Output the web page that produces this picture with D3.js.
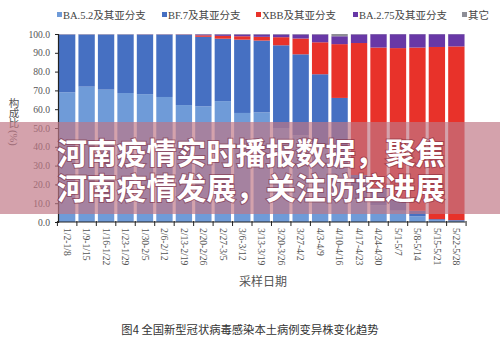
<!DOCTYPE html>
<html>
<head>
<meta charset="utf-8">
<script src="https://cdn.jsdelivr.net/npm/d3@7"></script>
<style>
  html, body { margin: 0; padding: 0; background: #ffffff; }
  svg { display: block; }
</style>
</head>
<body>
<svg id="chart" width="500" height="342"></svg>
<script>
// Weekly sampling periods
const categories = [
  "1/2-1/8", "1/9-1/15", "1/16-1/22", "1/23-1/29", "1/30-2/5", "2/6-2/12",
  "2/13-2/19", "2/20-2/26", "2/27-3/5", "3/6-3/12", "3/13-3/19", "3/20-3/26",
  "3/27-4/2", "4/3-4/9", "4/10-4/16", "4/17-4/23", "4/24-4/30", "5/1-5/7",
  "5/8-5/14", "5/15-5/21", "5/22-5/28"
];

// Share of local cases by variant (%)
const ba52  = [69.0, 72.0, 70.4, 68.6, 68.0, 66.5, 62.2, 61.5, 64.3, 58.0, 58.3, 50.0, 46.0, 40.0, 33.0, 12.0, 9.0, 6.0, 3.0, 1.0, 0.6];
const bf7   = [30.7, 27.7, 29.3, 31.1, 31.6, 33.1, 37.3, 37.0, 33.2, 39.0, 38.2, 44.0, 43.2, 38.6, 33.0, 13.0, 9.0, 6.0, 3.0, 0.5, 0.4];
const xbb   = [0.0, 0.0, 0.0, 0.0, 0.0, 0.0, 0.1, 0.8, 1.5, 1.8, 2.0, 4.3, 8.4, 17.0, 28.6, 70.2, 74.8, 80.5, 86.8, 91.6, 92.4];
const ba275 = [0.1, 0.1, 0.1, 0.1, 0.2, 0.2, 0.2, 0.5, 0.8, 1.0, 1.3, 1.5, 2.2, 4.2, 4.2, 4.6, 7.1, 7.4, 7.1, 6.8, 6.5];
const other = [0.2, 0.2, 0.2, 0.2, 0.2, 0.2, 0.2, 0.2, 0.2, 0.2, 0.2, 0.2, 0.2, 0.2, 1.2, 0.2, 0.1, 0.1, 0.1, 0.1, 0.1];

const seriesNames = ["BA.5.2及其亚分支", "BF.7及其亚分支", "XBB及其亚分支", "BA.2.75及其亚分支", "其它"];
const seriesColors = ["#6f9bd8", "#4670c2", "#e8322a", "#6838a6", "#8e8e96"];
const yTicks = [0, 10, 20, 30, 40, 50, 60, 70, 80, 90, 100];

const bannerLines = ["河南疫情实时播报数据，聚焦", "河南疫情发展，关注防控进展"];
const caption = "图4 全国新型冠状病毒感染本土病例变异株变化趋势";
const xTitle = "采样日期";
const yTitleChars = ["构", "成", "比"];
const yTitleUnit = "(%)";

const serif = "'Liberation Serif', 'Times New Roman', 'Noto Sans CJK SC', serif";
const sansCJK = "'Noto Sans CJK SC', 'Noto Sans', sans-serif";

const svg = d3.select("#chart");

const keys = ["ba52", "bf7", "xbb", "ba275", "other"];
const columns = { ba52, bf7, xbb, ba275, other };
const rows = categories.map((c, i) => {
  const r = { cat: c };
  keys.forEach(k => r[k] = columns[k][i]);
  return r;
});
const stacked = d3.stack().keys(keys)(rows);

const x = d3.scaleBand()
  .domain(categories)
  .range([58, 465.5])
  .paddingInner(0.16)
  .paddingOuter(0.05);

const y = d3.scaleLinear().domain([0, 100]).range([222, 34]);

// Stacked bars
const layers = svg.append("g").attr("class", "bars")
  .selectAll("g")
  .data(stacked)
  .join("g")
  .attr("fill", (d, i) => seriesColors[i]);

layers.selectAll("rect")
  .data(d => d)
  .join("rect")
  .attr("x", d => x(d.data.cat))
  .attr("width", x.bandwidth())
  .attr("y", d => y(d[1]))
  .attr("height", d => Math.max(0, y(d[0]) - y(d[1])));

// Y axis
const yAxis = svg.append("g")
  .attr("transform", `translate(${x.range()[0]},0)`)
  .call(d3.axisLeft(y).tickValues(yTicks).tickFormat(d3.format(".1f")).tickSize(3).tickPadding(5));
yAxis.select(".domain").attr("stroke", "#222").attr("stroke-width", 1.2);
yAxis.selectAll(".tick line").attr("stroke", "#222");
yAxis.selectAll(".tick text")
  .attr("font-family", serif)
  .attr("font-size", 9.6)
  .attr("fill", "#555");

// X axis: line, boundary ticks, rotated labels
const x0 = x.range()[0], x1 = x.range()[1];
const gapHalf = x.step() * x.paddingInner() / 2;
const xAxisG = svg.append("g").attr("class", "x-axis");
xAxisG.append("line")
  .attr("x1", x0).attr("x2", x1)
  .attr("y1", y(0)).attr("y2", y(0))
  .attr("stroke", "#222").attr("stroke-width", 1.2);

const edges = categories.map(c => x(c) - gapHalf).concat([x(categories[categories.length - 1]) + x.bandwidth() + gapHalf]);
xAxisG.selectAll("line.edge")
  .data(edges)
  .join("line")
  .attr("class", "edge")
  .attr("x1", d => d).attr("x2", d => d)
  .attr("y1", y(0) - 1).attr("y2", y(0) + 4)
  .attr("stroke", "#222");

xAxisG.selectAll("text.cat")
  .data(categories)
  .join("text")
  .attr("class", "cat")
  .attr("transform", d => `translate(${x(d) + x.bandwidth() / 2},${y(0) + 6}) rotate(90)`)
  .attr("dy", "0.34em")
  .attr("text-anchor", "start")
  .attr("font-family", serif)
  .attr("font-size", 9.6)
  .attr("fill", "#555")
  .text(d => d);

// Axis titles
svg.append("text")
  .attr("x", 263).attr("y", 286)
  .attr("text-anchor", "middle")
  .attr("font-family", serif)
  .attr("font-size", 12)
  .attr("fill", "#555")
  .text(xTitle);

svg.append("g").selectAll("text")
  .data(yTitleChars)
  .join("text")
  .attr("x", 14)
  .attr("y", (d, i) => 107 + i * 10)
  .attr("text-anchor", "middle")
  .attr("font-family", serif)
  .attr("font-size", 10.5)
  .attr("fill", "#555")
  .text(d => d);

svg.append("text")
  .attr("transform", "translate(14,130) rotate(90)")
  .attr("dy", "0.34em")
  .attr("font-family", serif)
  .attr("font-size", 10.5)
  .attr("fill", "#555")
  .text(yTitleUnit);

// Legend
const legendX = [57, 162, 256, 353, 462];
const legend = svg.append("g").attr("class", "legend")
  .selectAll("g")
  .data(seriesNames)
  .join("g")
  .attr("transform", (d, i) => `translate(${legendX[i]},15)`);
legend.append("rect")
  .attr("x", 0).attr("y", -3).attr("width", 5).attr("height", 5)
  .attr("fill", (d, i) => seriesColors[i]);
legend.append("text")
  .attr("x", 6).attr("y", 0)
  .attr("dy", "0.35em")
  .attr("font-family", serif)
  .attr("font-size", 10.5)
  .attr("fill", "#444")
  .text(d => d);

// Caption
svg.append("text")
  .attr("x", 250).attr("y", 334)
  .attr("text-anchor", "middle")
  .attr("font-family", sansCJK)
  .attr("font-size", 11.3)
  .attr("fill", "#333")
  .text(caption);

// Headline banner across the chart
const banner = svg.append("g").attr("class", "banner");
banner.append("rect")
  .attr("x", 0).attr("y", 122).attr("width", 500).attr("height", 92)
  .attr("fill", "rgb(192,118,132)")
  .attr("opacity", 0.68);

// two-line headline in a single text block
const headline = banner.append("text")
  .attr("class", "headline")
  .attr("font-family", sansCJK)
  .attr("font-weight", 700)
  .attr("font-size", 30)
  .attr("fill", "#ffffff")
  .attr("stroke", "rgba(120,30,50,0.5)")
  .attr("stroke-width", 2)
  .attr("paint-order", "stroke");

headline.selectAll("tspan")
  .data(bannerLines)
  .join("tspan")
  .attr("x", 57)
  .attr("y", (d, i) => 164 + i * 35)
  .attr("textLength", 388)
  .attr("lengthAdjust", "spacing")
  .text(d => d);
</script>
</body>
</html>
